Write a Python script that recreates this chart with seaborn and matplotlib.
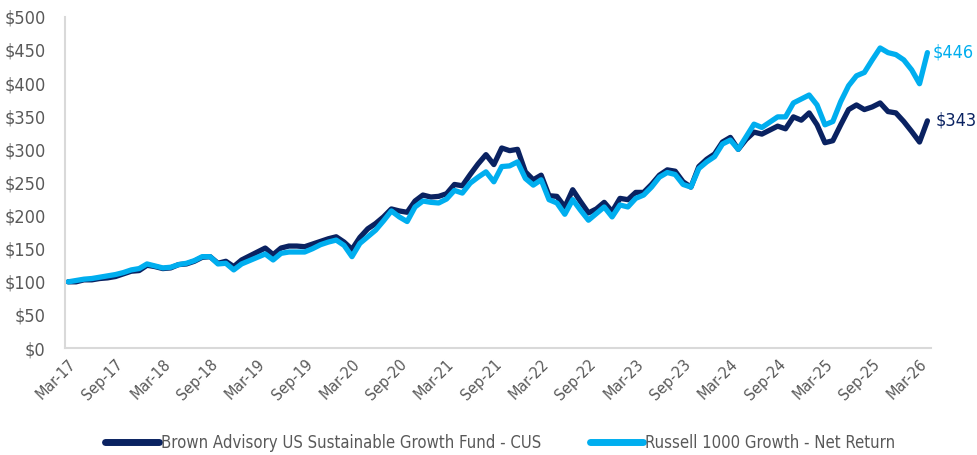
import pandas as pd
import matplotlib.pyplot as plt
import seaborn as sns

# Growth of $100, monthly, Mar-17 .. Apr-26
months = pd.date_range('2017-03-01', '2026-04-01', freq='MS')

fund_values = [
    100, 100, 103, 103, 105, 106, 108, 112, 116, 117,
    125, 123, 120, 121, 126, 127, 131, 137, 138, 128,
    131, 123, 133, 139, 145, 151, 141, 151, 154, 154,
    153, 157, 161, 165, 168, 160, 149, 167, 180, 188,
    198, 210, 207, 205, 222, 231, 228, 229, 233, 247,
    245, 262, 278, 292, 277, 302, 298, 300, 266, 254,
    261, 230, 229, 213, 239, 221, 204, 210, 220, 206,
    226, 224, 235, 235, 247, 261, 269, 267, 251, 243,
    274, 285, 293, 311, 318, 300, 315, 326, 323, 329,
    335, 331, 349, 344, 355, 337, 310, 313, 337, 360,
    367, 360, 364, 370, 357, 355, 342, 327, 311, 343,
]
index_values = [
    100, 102, 104, 105, 107, 109, 111, 114, 118, 120,
    127, 124, 121, 122, 126, 128, 132, 138, 138, 127,
    128, 118, 127, 132, 137, 142, 133, 143, 145, 145,
    145, 150, 156, 160, 163, 155, 138, 158, 168, 178,
    192, 207, 198, 191, 213, 222, 220, 219, 225, 238,
    234, 249, 258, 266, 251, 274, 275, 281, 256, 246,
    254, 224, 219, 202, 224, 208, 193, 203, 213, 198,
    216, 213, 226, 231, 243, 258, 265, 262, 247, 243,
    271, 281, 289, 308, 314, 300, 319, 338, 333, 341,
    349, 349, 370, 376, 382, 367, 337, 342, 372, 396,
    411, 416, 435, 453, 446, 443, 435, 420, 399, 446,
]

fund_name = 'Brown Advisory US Sustainable Growth Fund - CUS'
index_name = 'Russell 1000 Growth - Net Return'
navy = '#0a2261'
sky = '#00aeef'
grey = '#595959'

sns.set_style('white')
plt.rcParams['font.family'] = ['DejaVu Sans']
plt.rcParams['font.stretch'] = 'condensed'

df = pd.DataFrame({
    'i': list(range(len(months))) * 2,
    'value': fund_values + index_values,
    'series': [fund_name] * len(months) + [index_name] * len(months),
})

fig = plt.figure(figsize=(9.78, 4.55), dpi=100)
ax = fig.add_axes([0.0665, 0.235, 0.885, 0.728])

sns.lineplot(data=df, x='i', y='value', hue='series', palette=[navy, sky],
             linewidth=3.8, ax=ax, legend=True, solid_capstyle='round',
             solid_joinstyle='round')

ax.set_xlim(-0.4, len(months) - 0.6)
ax.set_ylim(0, 500)
ax.set_yticks(range(0, 501, 50))
ax.set_yticklabels([f'${v}' for v in range(0, 501, 50)], fontsize=13, color=grey)

tick_pos = list(range(0, len(months), 6))
ax.set_xticks(tick_pos)
ax.set_xticklabels([months[p].strftime('%b-%y') for p in tick_pos],
                   rotation=45, ha='right', rotation_mode='anchor',
                   fontsize=11.5, color=grey)
ax.tick_params(axis='x', length=0, pad=6)
ax.tick_params(axis='y', length=0, pad=14)
ax.set_xlabel('')
ax.set_ylabel('')

for side in ['top', 'right']:
    ax.spines[side].set_visible(False)
for side in ['left', 'bottom']:
    ax.spines[side].set_color('#d9d9d9')
    ax.spines[side].set_linewidth(1.5)

# end labels
last = len(months) - 1
ax.annotate(f'${index_values[-1]}', (last, index_values[-1]), xytext=(4, 0),
            textcoords='offset points', va='center', fontsize=13, color=sky,
            annotation_clip=False)
ax.annotate(f'${fund_values[-1]}', (last, fund_values[-1]), xytext=(6, 0),
            textcoords='offset points', va='center', fontsize=13, color=navy,
            annotation_clip=False)

leg = ax.legend(loc='center', bbox_to_anchor=(0.503, -0.287), ncol=2,
                frameon=False, fontsize=12, handlelength=3.2,
                handletextpad=0.15, columnspacing=2.9)
for line in leg.get_lines():
    line.set_linewidth(5)
    line.set_solid_capstyle('round')
for t in leg.get_texts():
    t.set_color(grey)

fig.savefig('out.png', dpi=100)
